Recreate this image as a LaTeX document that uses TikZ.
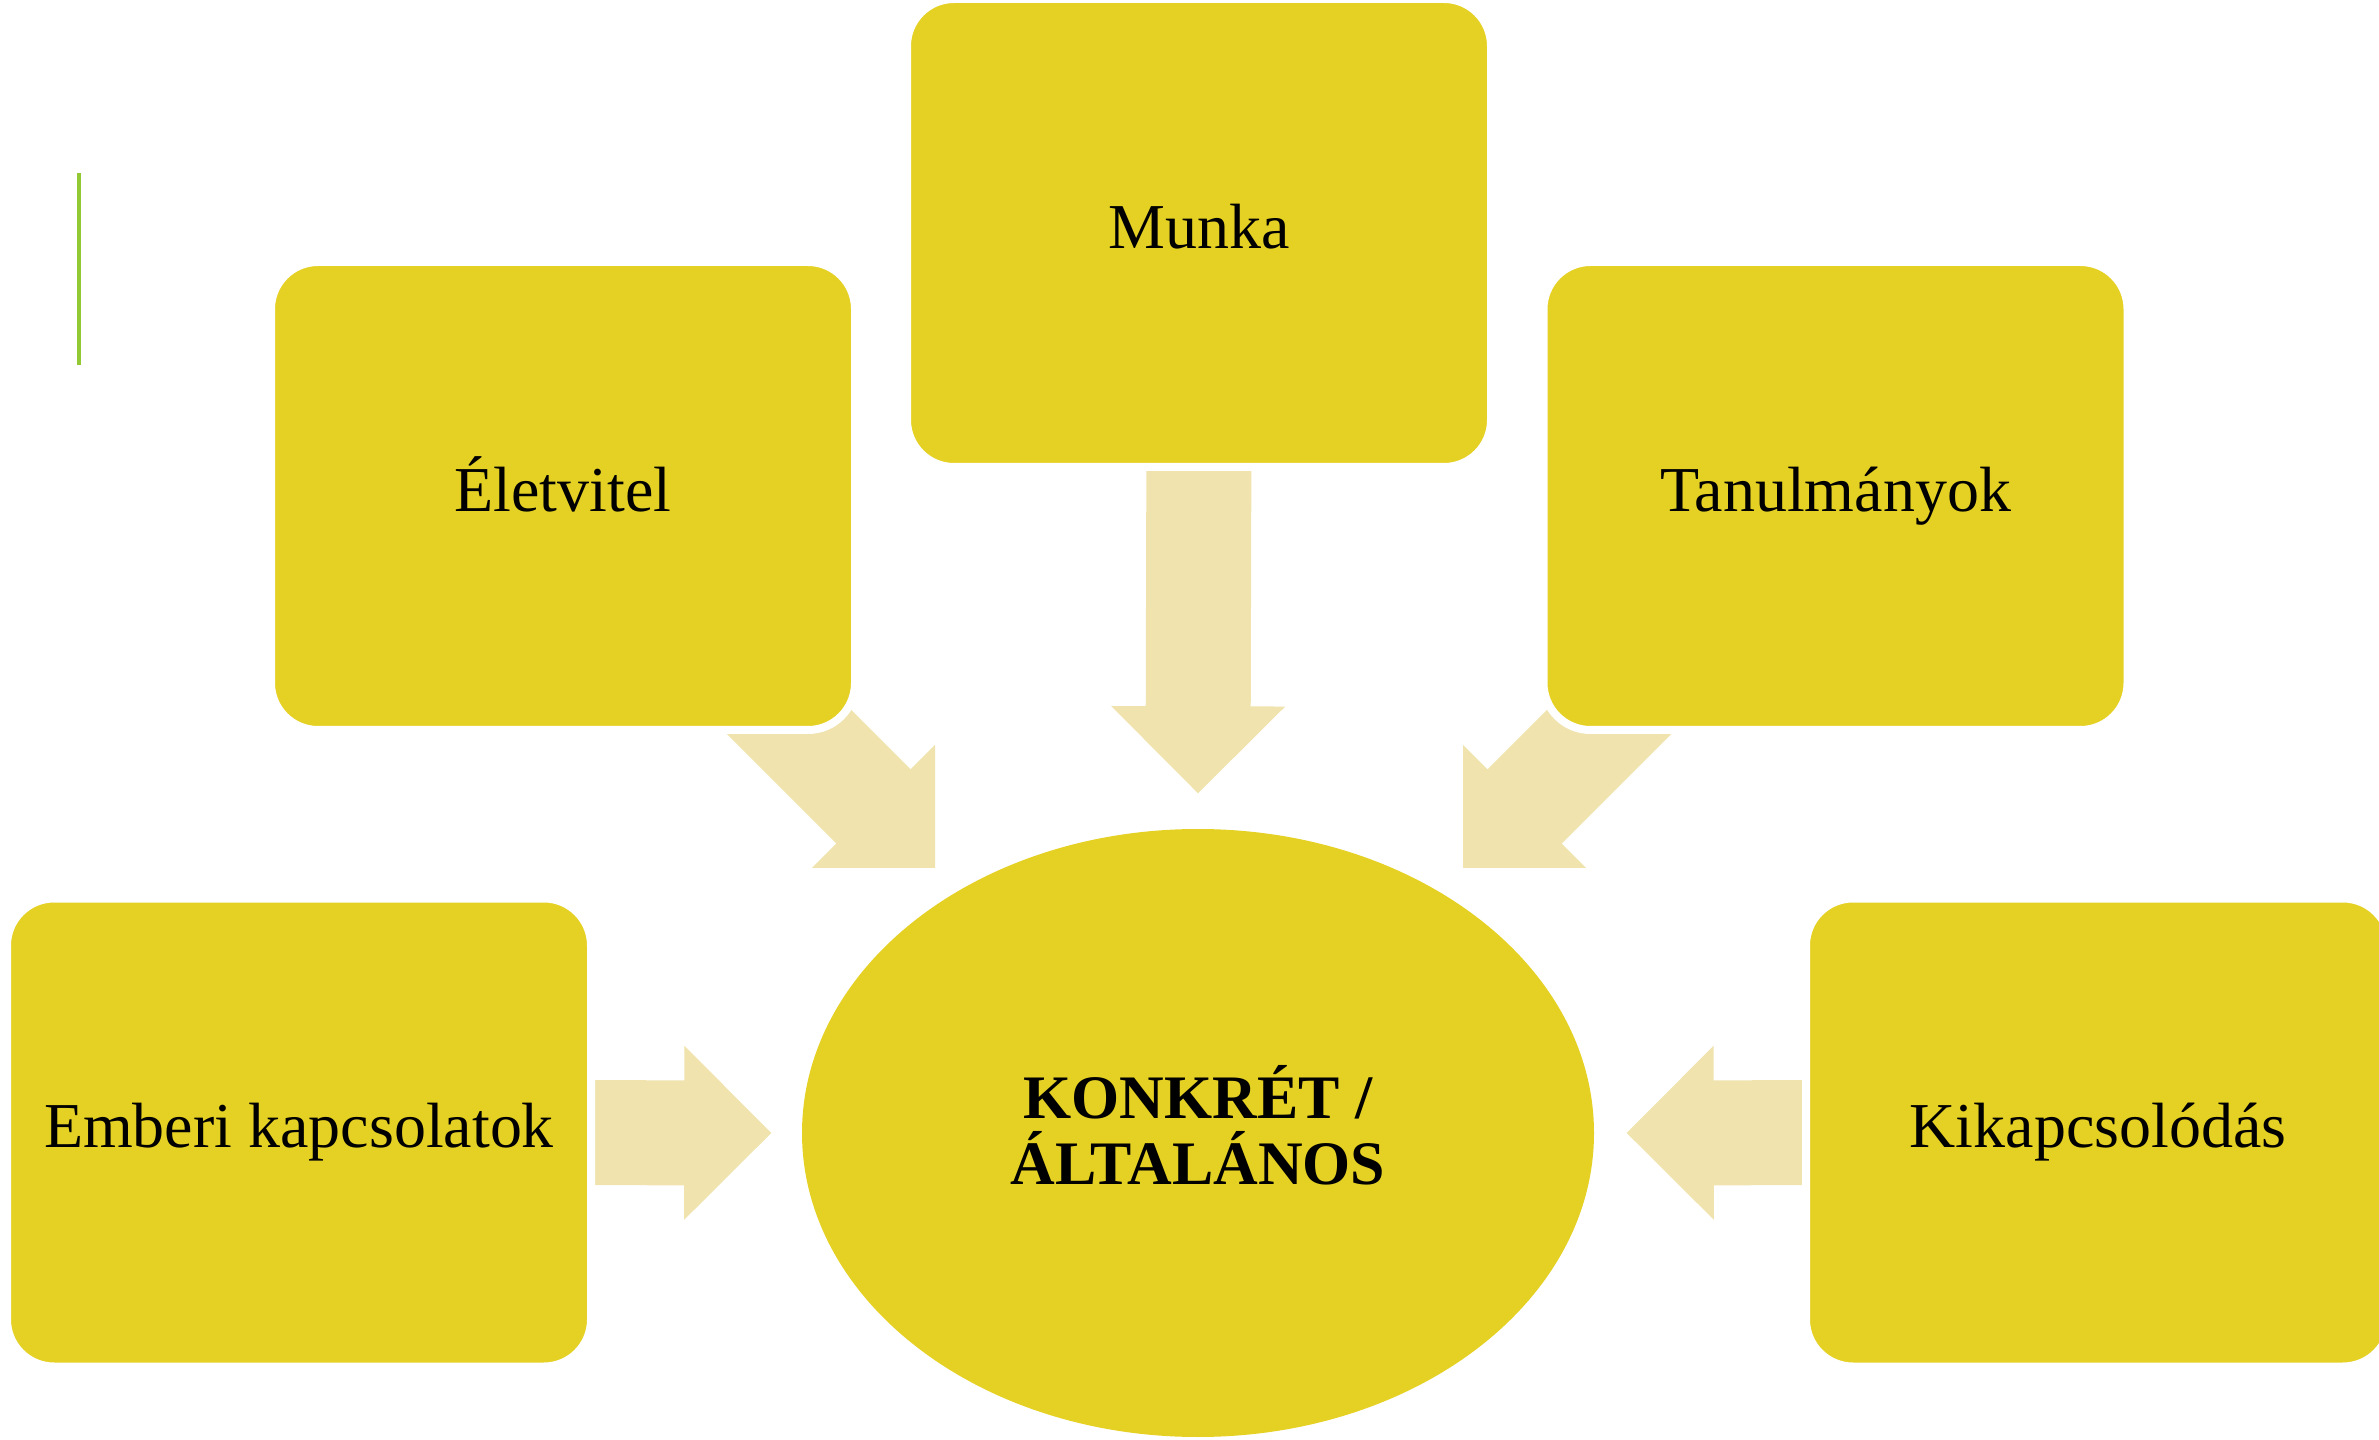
\documentclass[tikz,border=0pt]{standalone}
\usepackage{fontspec}
\setmainfont{Liberation Serif}
\usetikzlibrary{shapes.geometric, positioning, calc, backgrounds}
\definecolor{boxyellow}{RGB}{229,209,36}
\definecolor{arrowtan}{RGB}{240,227,174}
\definecolor{bargreen}{RGB}{146,200,52}

\tikzset{
	topic/.style={fill=boxyellow, draw=white, line width=0.8mm, rounded corners=4.7mm,
		minimum width=58.4mm, minimum height=46.8mm, inner sep=0pt,
		text height=0.9em, text depth=0.04em,
		font=\fontsize{18.2pt}{21pt}\selectfont},
	hub/.style={ellipse, fill=boxyellow, minimum width=79.2mm, minimum height=60.8mm,
		inner sep=0pt, align=center, font=\fontsize{17.6pt}{18.8pt}\selectfont\bfseries},
	fatarrow/.style={fill=arrowtan}
}

% block arrow from #1 (tail) to #2 (tip)
\newcommand{\fatarrow}[2]{%
	\path (#1) coordinate (ft) (#2) coordinate (fh) ($(fh)!8.7mm!(ft)$) coordinate (fb);
	\fill[fatarrow] ($(ft)!5.25mm!90:(fh)$) -- ($(fb)!5.25mm!90:(fh)$) -- ($(fb)!8.7mm!90:(fh)$)
		-- (fh) -- ($(fb)!8.7mm!-90:(fh)$) -- ($(fb)!5.25mm!-90:(fh)$) -- ($(ft)!5.25mm!-90:(fh)$) -- cycle;}

\begin{document}
\begin{tikzpicture}[x=0.1mm, y=-0.1mm]
	\useasboundingbox (0,0) rectangle (2379,1440);
	\clip (0,0) rectangle (2379,1440);

	\draw[bargreen, line width=0.4mm] (79,173) -- (79,365);

	\node[topic] (munka) at (1199,233) {Munka};
	\node[topic] (eletvitel) at (563,496) {Életvitel};
	\node[topic] (tanulmanyok) at (1835.5,496) {Tanulmányok};
	\node[topic] (emberi) at (299,1132.5) {Emberi kapcsolatok};
	\node[topic] (kikapcs) at (2098,1132.5) {Kikapcsolódás};
	\node[hub] (hub) at (1198,1133) {KONKRÉT /\\ÁLTALÁNOS\rule[-1.6mm]{0pt}{0pt}};

	\coordinate (lt) at (735,668);
	\coordinate (lh) at (935,868);
	\coordinate (rt) at (1663,668);
	\coordinate (rh) at (1463,868);

	\begin{pgfonlayer}{background}
		\fatarrow{$(munka.south)+(0,-60)$}{$(hub.north)+(0,-35)$}
		\fatarrow{lt}{lh}
		\fatarrow{rt}{rh}
		\fatarrow{$(emberi.east)+(-70,0)$}{$(hub.west)+(-30,0)$}
		\fatarrow{$(kikapcs.west)+(70,0)$}{$(hub.east)+(32,0)$}
	\end{pgfonlayer}
\end{tikzpicture}
\end{document}
